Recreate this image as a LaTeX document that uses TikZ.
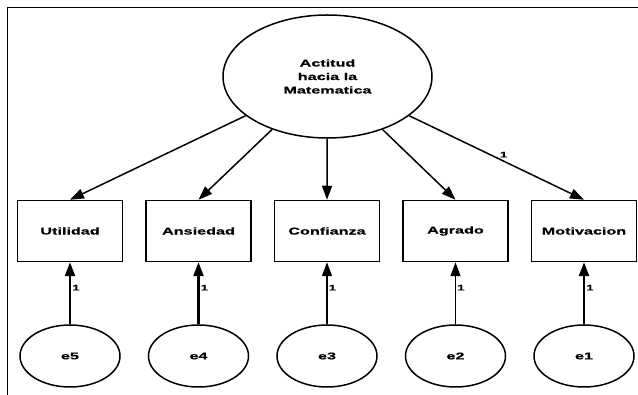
\documentclass[tikz,border=0pt]{standalone}
\usepackage{fontspec}
\setmainfont{Liberation Sans}[FakeStretch=1.65,FakeBold=0.6]
\usetikzlibrary{arrows.meta,shapes.geometric}
\tikzset{
	latent/.style={draw,ellipse,line width=1.5pt,inner sep=0pt,
		minimum width=209pt,minimum height=123pt,align=center,
		font=\bfseries\fontsize{9.8}{13.5}\selectfont},
	observed/.style={draw,rectangle,line width=1.5pt,
		minimum width=105pt,minimum height=61pt,
		font=\bfseries\fontsize{9.8}{12}\selectfont},
	error/.style={draw,ellipse,line width=1.5pt,inner sep=0pt,
		minimum width=100pt,minimum height=62pt,
		font=\bfseries\fontsize{9.8}{12}\selectfont},
	loading/.style={-{Triangle[length=14pt,width=10pt]},line width=1.5pt},
	weight/.style={font=\bfseries\fontsize{8}{9}\selectfont,inner sep=1pt},
}
\begin{document}
\begin{tikzpicture}[x=1pt,y=-1pt]
	\useasboundingbox (0,0) rectangle (638,395);
	\draw[line width=1.8pt] (7.5,395) -- (7.5,7.5) -- (638,7.5);
	\path
		  (327.5, 76.5) node[latent]   (actitud)    {Actitud\\hacia la\\Matematica}
		  ( 70,   231)  node[observed] (utilidad)   {Utilidad}
		  (198.5, 231)  node[observed] (ansiedad)   {Ansiedad}
		  (327,   231)  node[observed] (confianza)  {Confianza}
		  (455.5, 231)  node[observed] (agrado)     {Agrado}
		  (584,   231)  node[observed] (motivacion) {Motivacion}
		  ( 70,   356)  node[error]    (e5)         {e5}
		  (198.5, 356)  node[error]    (e4)         {e4}
		  (327,   356)  node[error]    (e3)         {e3}
		  (455.5, 356)  node[error]    (e2)         {e2}
		  (584,   356)  node[error]    (e1)         {e1}
	;
	\draw[loading]                 (actitud) -- (utilidad.north);
	\draw[loading]                 (actitud) -- (ansiedad.north);
	\draw[loading]                 (actitud) -- (confianza.north);
	\draw[loading]                 (actitud) -- (agrado.north);
	\draw[loading]                 (actitud) -- node[pos=.54,above=2pt,weight] {1} (motivacion.north);
	\draw[loading,line width=2.5pt] (e5) -- node[pos=.59,right,weight] {1} (utilidad);
	\draw[loading,line width=2.5pt] (e4) -- node[pos=.59,right,weight] {1} (ansiedad);
	\draw[loading]                 (e3) -- node[pos=.59,right,weight] {1} (confianza);
	\draw[loading]                 (e2) -- node[pos=.59,right,weight] {1} (agrado);
	\draw[loading,line width=2.5pt] (e1) -- node[pos=.59,right,weight] {1} (motivacion);
\end{tikzpicture}
\end{document}
